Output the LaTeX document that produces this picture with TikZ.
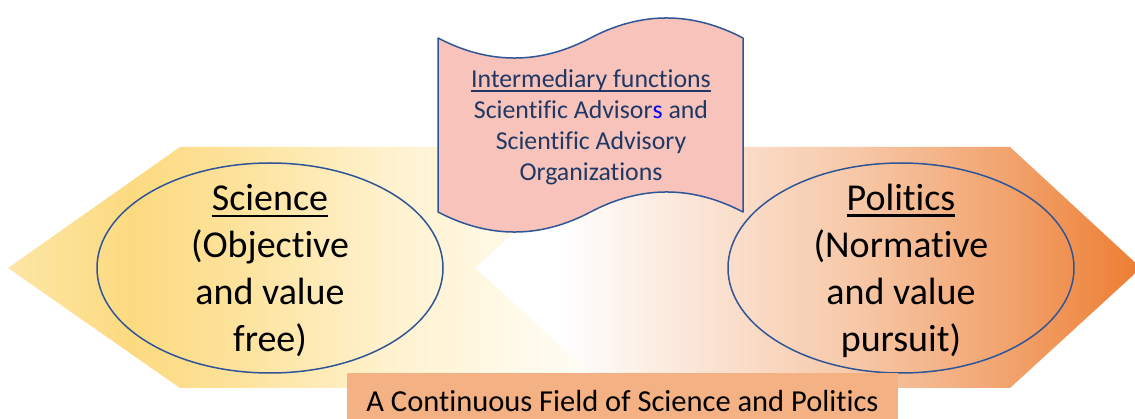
\documentclass[tikz,border=0pt]{standalone}
\usepackage{fontspec}
\setmainfont{Carlito}[Ligatures=NoCommon]
\usetikzlibrary{shapes.geometric}

% palette
\definecolor{sciA}{HTML}{FCE6A6}
\definecolor{sciB}{HTML}{FCDA80}
\definecolor{sciC}{HTML}{FDE29A}
\definecolor{sciD}{HTML}{FEF1CC}
\definecolor{sciE}{HTML}{FFFAEB}
\definecolor{sciF}{HTML}{FFFDF7}
\definecolor{polB}{HTML}{FBE4D5}
\definecolor{polC}{HTML}{F7C9A9}
\definecolor{polD}{HTML}{F2A571}
\definecolor{polE}{HTML}{ED7D31}
\definecolor{scrollfill}{HTML}{F7C3BB}
\definecolor{outline}{HTML}{2F5597}
\definecolor{navytext}{HTML}{1F3864}
\definecolor{fieldbox}{HTML}{F4B183}
\definecolor{brightblue}{HTML}{0000FF}

% gradients of the two halves of the field (middle 25bp..75bp spans the shape)
\pgfdeclarehorizontalshading{sciencefield}{100bp}{%
  color(0bp)=(sciA); color(25bp)=(sciA); color(35.3bp)=(sciB);
  color(43.7bp)=(sciC); color(56.4bp)=(sciD); color(68.2bp)=(sciE);
  color(75bp)=(sciF); color(100bp)=(sciF)}
\pgfdeclarehorizontalshading{politicsfield}{100bp}{%
  color(0bp)=(white); color(31.4bp)=(white); color(41.9bp)=(polB);
  color(53.2bp)=(polC); color(64.4bp)=(polD); color(75bp)=(polE);
  color(100bp)=(polE)}

% underline drawn just below the baseline
\newcommand\baseul[1]{\setbox0\hbox{#1}\rlap{\rule[-0.17em]{\wd0}{0.07em}}\box0}

\tikzset{
  oval/.style={ellipse, draw=outline, line width=1.5pt, inner sep=0pt,
    minimum width=346pt, minimum height=210pt},
  ovaltext/.style={align=center, text=black,
    font=\fontsize{38}{47}\selectfont},
  scrolltext/.style={align=center, text=navytext,
    font=\fontsize{25.8}{31}\selectfont},
  fieldlabel/.style={fill=fieldbox, text=black, inner sep=0pt,
    minimum width=551pt, minimum height=55pt,
    font=\fontsize{30.5}{36}\selectfont},
}

\begin{document}
\begin{tikzpicture}[x=1pt, y=-1pt, line join=round]
\clip (0,0) rectangle (1135,419);
\fill[white] (0,0) rectangle (1135,419);

% the field: politics half (pointing right) and science half (pointing left)
\path[shading=politicsfield]
  (475,268) -- (607,147) -- (1010,147) -- (1141,268) -- (1010,388) -- (607,388) -- cycle;
\path[shading=sciencefield]
  (8,268) -- (180,147) -- (607,147) -- (475,268) -- (607,388) -- (180,388) -- cycle;

% science and politics ovals
\node[oval] (sci) at (270,268) {};
\node[ovaltext] (scitext) at (270,271) {\baseul{Science}\\(Objective\\and value\\free)};
\node[oval] (pol) at (901,268) {};
\node[ovaltext] (poltext) at (901,271) {\baseul{Politics}\\(Normative\\and value\\pursuit)};

% intermediary scroll
\draw[fill=scrollfill, draw=outline, line width=1.5pt]
  (438,38) .. controls (489,64.7) and (540,64.7) .. (590.5,38)
           .. controls (641,11.3) and (692,11.3) .. (743,38)
  -- (743,212)
           .. controls (692,185.3) and (641,185.3) .. (590.5,212)
           .. controls (540,238.7) and (489,238.7) .. (438,212)
  -- cycle;
\node[scrolltext] (inter) at (591,127)
  {\baseul{Intermediary functions}\\Scientific Advisor{\color{brightblue}s} and\\Scientific Advisory\\Organizations};

% caption band
\node[fieldlabel, anchor=north] (field) at (622.5,373)
  {A Continuous Field of Science and Politics};
\end{tikzpicture}
\end{document}
